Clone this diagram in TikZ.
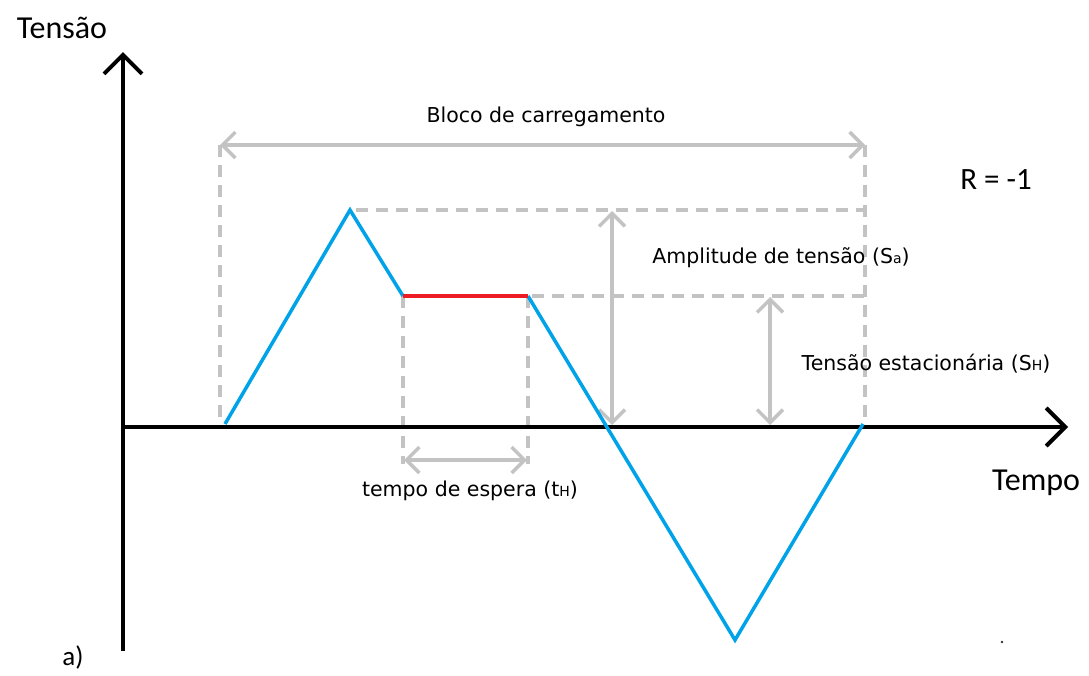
\documentclass[tikz,border=0pt]{standalone}
\usepackage{fontspec}
\setmainfont{DejaVu Sans}
\newfontfamily\calib{Carlito}
\usetikzlibrary{arrows.meta}
\definecolor{pblue}{HTML}{00A2E8}
\definecolor{pred}{HTML}{ED1C24}
\definecolor{pgrey}{HTML}{C3C3C3}
\tikzset{
  axisline/.style={line width=4pt,black,-{Straight Barb[length=19pt,width=38pt]}},
  wave/.style={line width=3.5pt,pblue,line join=miter},
  hold/.style={line width=3.5pt,pred},
  guide/.style={line width=3.5pt,pgrey,dash pattern=on 12pt off 8pt},
  dim/.style={line width=3.5pt,pgrey,{Straight Barb[length=13pt,width=26pt]}-{Straight Barb[length=13pt,width=26pt]}},
  lbl/.style={font=\fontsize{20.5}{22}\selectfont,inner sep=0pt},
  big/.style={font=\calib\fontsize{32}{34}\selectfont,inner sep=0pt},
}
\newcommand{\smallsub}[1]{{\fontsize{14}{14}\selectfont #1}}
\begin{document}
\begin{tikzpicture}[x=1pt,y=-1pt]
\useasboundingbox (0,0) rectangle (1089,675);
% coordinates
\coordinate (O) at (123,427);
\coordinate (ytop) at (123,52);
\coordinate (ybot) at (123,651);
\coordinate (xend) at (1068,427);
\coordinate (P0) at (225,424);
\coordinate (P1) at (350,210);
\coordinate (P2) at (403,296);
\coordinate (P3) at (528,296);
\coordinate (P5) at (735,640);
\coordinate (P6) at (863,424);
\coordinate (BL) at (220,145);
\coordinate (BR) at (865,145);
\coordinate (BLd) at (220,424);
\coordinate (BRd) at (865,427);
\coordinate (HA) at (356,210);
\coordinate (HAr) at (865,210);
\coordinate (HB) at (532,296);
\coordinate (HBr) at (865,296);
\coordinate (V1b) at (403,464);
\coordinate (V2b) at (528,464);
\coordinate (A1t) at (612,211);
\coordinate (A1b) at (612,425);
\coordinate (A2t) at (770,297);
\coordinate (A2b) at (770,425);
\coordinate (T1) at (404,460);
\coordinate (T2) at (527,460);
% grey guides
\draw[guide] (BL) -- (BLd);
\draw[guide] (BR) -- (BRd);
\draw[guide] (HA) -- (HAr);
\draw[guide] (HB) -- (HBr);
\draw[guide] (P2) -- (V1b);
\draw[guide] (P3) -- (V2b);
% dimension arrows
\draw[dim] (BL) -- (BR);
\draw[dim] (A1t) -- (A1b);
\draw[dim] (A2t) -- (A2b);
\draw[dim] (T1) -- (T2);
% axes
\draw[axisline] (ybot) -- (ytop);
\draw[axisline] (O) -- (xend);
% waveform
\draw[wave] (P0) -- (P1) -- (P2);
\draw[wave] (P3) -- (P5) -- (P6);
\draw[hold] (P2) -- (P3);
% labels
\node[big] (tensao) at (62,28) {Tensão};
\node[big] (tempo) at (1036,483) {Tempo};
\node[big,font=\calib\fontsize{27}{29}\selectfont] (alab) at (73,657) {a)};
\node[big,font=\calib\fontsize{31}{33}\selectfont] (rlab) at (996,180) {R = -1};
\node[lbl] (bloco) at (546,117) {Bloco de carregamento};
\node[lbl] (ampl) at (781,258) {Amplitude de tensão (S\smallsub{a})};
\node[lbl] (estac) at (926,364) {Tensão estacionária (S\smallsub{H})};
\node[lbl] (espera) at (470,491) {tempo de espera (t\smallsub{H})};
\fill[black!80] (1002,642) circle (1.3pt);
\end{tikzpicture}
\end{document}
